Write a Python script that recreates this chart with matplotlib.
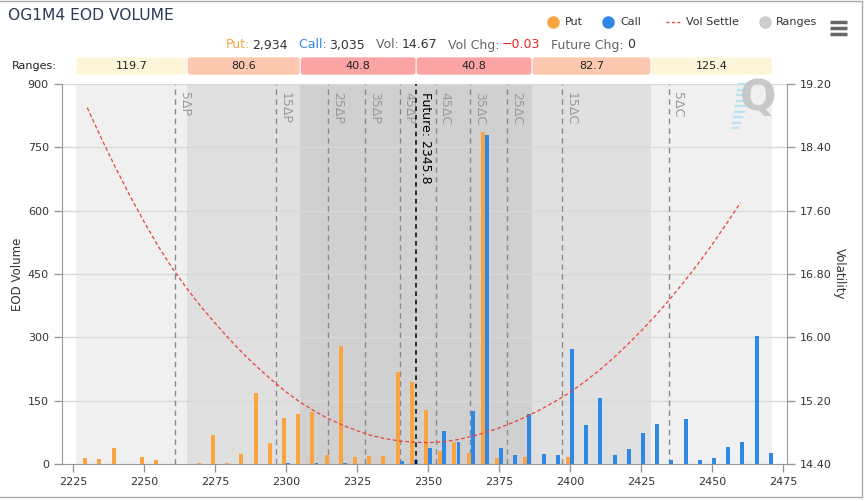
import matplotlib
matplotlib.use("Agg")
import matplotlib.pyplot as plt
from matplotlib.lines import Line2D
from matplotlib.patches import FancyBboxPatch
from matplotlib.offsetbox import TextArea, HPacker, AnchoredOffsetbox
import numpy as np

plt.rcParams['font.family'] = ['DejaVu Sans']

# ---------------- data ----------------
strikes = list(range(2230, 2475, 5))
put_vol = [14, 11, 37, 0, 16, 9, 1, 1, 3, 69, 3, 24, 167, 49, 108, 118, 124, 21, 279, 16,
           19, 19, 218, 194, 128, 31, 52, 27, 787, 15, 0, 17, 1, 1, 17, 1, 1, 1, 0, 1,
           1, 0, 0, 0, 0, 0, 0, 0, 0]
call_vol = [0, 0, 0, 0, 0, 0, 0, 0, 0, 0, 0, 0, 0, 0, 2, 0, 2, 0, 3, 0,
            0, 0, 7, 9, 37, 77, 52, 125, 779, 39, 21, 118, 24, 21, 272, 92, 156, 21, 36, 74,
            95, 9, 106, 9, 14, 40, 52, 303, 26]
vol_strikes = list(range(2230, 2465, 5))
vol_settle = [18.90, 18.51, 18.14, 17.79, 17.46, 17.15, 16.87, 16.62, 16.39, 16.18,
              15.98, 15.79, 15.62, 15.46, 15.31, 15.18, 15.07, 14.97, 14.89, 14.82,
              14.76, 14.72, 14.69, 14.675, 14.67, 14.68, 14.705, 14.745, 14.795, 14.855,
              14.925, 15.005, 15.095, 15.195, 15.305, 15.435, 15.575, 15.73, 15.90, 16.08,
              16.27, 16.475, 16.695, 16.925, 17.17, 17.43, 17.70]
future = 2345.8
range_values = [119.7, 80.6, 40.8, 40.8, 82.7, 125.4]
range_colors = ['#fdf5d8', '#fcc9b0', '#fca3a3', '#fca3a3', '#fcc9b0', '#fdf5d8']
band_colors = ['#f0f0f0', '#e0e0e0', '#d0d0d0', '#d0d0d0', '#e0e0e0', '#f0f0f0']
delta_labels = ['5ΔP', '15ΔP', '25ΔP', '35ΔP', '45ΔP', '45ΔC', '35ΔC', '25ΔC', '15ΔC', '5ΔC']
delta_strikes = [2260.9, 2296.4, 2314.9, 2327.9, 2340.1, 2352.7, 2364.9, 2377.9, 2397.1, 2434.7]
x_ticks = [2225, 2250, 2275, 2300, 2325, 2350, 2375, 2400, 2425, 2450, 2475]
y_ticks = [0, 150, 300, 450, 600, 750, 900]
vol_ticks = [14.40, 15.20, 16.00, 16.80, 17.60, 18.40, 19.20]

PUT_C = '#f9a43f'
CALL_C = '#2f87e6'
W, H = 866, 501

fig = plt.figure(figsize=(W / 100, H / 100), dpi=100)
fig.patch.set_facecolor('white')

def fx(px):
    return px / W

def fy(py):
    return 1 - py / H

L, R, T, B = 62, 787, 84, 464
ax = fig.add_axes([fx(L), fy(B), fx(R - L), (B - T) / H])
xlim = (2221.1, 2476.4)
ax.set_xlim(*xlim)
ax.set_ylim(0, 900)

# range boundaries
edges = [future - range_values[0], future - range_values[1], future - range_values[2], future,
         future + range_values[3], future + range_values[4], future + range_values[5]]
for i in range(6):
    ax.axvspan(edges[i], edges[i + 1], color=band_colors[i], zorder=0, lw=0)

for yt in y_ticks[1:]:
    ax.axhline(yt, color='#d9d9d9', lw=1, zorder=1)

# delta lines
for s, lab in zip(delta_strikes, delta_labels):
    ax.axvline(s, color='#8a8a8a', lw=1, ls=(0, (4, 3)), zorder=2)
    ax.text(s + 0.9, 880, lab, rotation=-90, va='top', ha='left', color='#999999',
            fontsize=9, zorder=2)
ax.axvline(future, color='black', lw=1.1, ls=(0, (3, 2.5)), zorder=4)
ax.text(future + 0.9, 880, 'Future: 2345.8', rotation=-90, va='top', ha='left',
        color='black', fontsize=9, zorder=5)

# bars
s_arr = np.array(strikes, dtype=float)
bw = 1.4
ax.bar(s_arr - 0.72, put_vol, width=bw, color=PUT_C, zorder=3, lw=0)
ax.bar(s_arr + 0.72, call_vol, width=bw, color=CALL_C, zorder=3, lw=0)

ax.set_xticks(x_ticks)
ax.set_yticks(y_ticks)
ax.tick_params(axis='both', colors='#999999', labelcolor='#333333', labelsize=8, length=6, width=1)
for sp in ['top', 'right']:
    ax.spines[sp].set_visible(False)
for sp in ['left', 'bottom']:
    ax.spines[sp].set_color('#999999')
ax.set_ylabel('EOD Volume', fontsize=8.5, color='#333333', labelpad=3)

ax2 = ax.twinx()
ax2.set_ylim(14.4, 19.2)
ax2.set_yticks(vol_ticks)
ax2.set_yticklabels([f'{v:.2f}' for v in vol_ticks])
ax2.tick_params(axis='y', colors='#999999', labelcolor='#333333', labelsize=8, length=6, width=1)
for sp in ['top', 'left', 'bottom']:
    ax2.spines[sp].set_visible(False)
ax2.spines['right'].set_color('#999999')
ax2.plot(vol_strikes, vol_settle, color='#e8423a', lw=0.9, ls=(0, (3, 2)), zorder=5)
ax2.set_ylabel('Volatility', fontsize=8.5, color='#333333', rotation=-90, labelpad=10)

# ranges row
axr = fig.add_axes([fx(L), fy(75), fx(R - L), 18 / H])
axr.set_xlim(*xlim)
axr.set_ylim(0, 1)
axr.axis('off')
for i in range(6):
    x0 = edges[i] + 0.2
    wdt = edges[i + 1] - edges[i] - 0.4
    axr.add_patch(FancyBboxPatch((x0, 0.02), wdt, 0.96,
                                 boxstyle='round,pad=0,rounding_size=1.0',
                                 mutation_aspect=1 / 8, fc=range_colors[i], ec='none'))
    axr.text(edges[i] + (edges[i + 1] - edges[i]) / 2, 0.48, f'{range_values[i]}',
             ha='center', va='center', fontsize=8, color='#222222')
fig.text(fx(12), fy(66), 'Ranges:', ha='left', va='center', fontsize=8, color='#222222')

# title
fig.text(fx(8), fy(16), 'OG1M4 EOD VOLUME', ha='left', va='center', fontsize=11.2, color='#2b3a55')

# legend
def dot(px, py, c):
    fig.add_artist(Line2D([fx(px)], [fy(py)], marker='o', ms=8, color=c, ls='none',
                          transform=fig.transFigure))
dot(553, 22, PUT_C)
fig.text(fx(565), fy(22), 'Put', ha='left', va='center', fontsize=8, color='#333333')
dot(608, 22, CALL_C)
fig.text(fx(620), fy(22), 'Call', ha='left', va='center', fontsize=8, color='#333333')
fig.add_artist(Line2D([fx(666), fx(682)], [fy(22), fy(22)], color='#e8423a', lw=1,
                      ls=(0, (2, 2)), transform=fig.transFigure))
fig.text(fx(686), fy(22), 'Vol Settle', ha='left', va='center', fontsize=8, color='#333333')
dot(765, 22, '#cccccc')
fig.text(fx(776), fy(22), 'Ranges', ha='left', va='center', fontsize=8, color='#333333')
for yy in (22, 28, 34):
    fig.add_artist(Line2D([fx(830), fx(847)], [fy(yy), fy(yy)], color='#666666', lw=2.5,
                          transform=fig.transFigure, solid_capstyle='butt'))

# stats line
pieces = [('Put:', PUT_C), ('2,934', '#333333'), ('  Call:', CALL_C), ('3,035', '#333333'),
          ('  Vol:', '#666666'), ('14.67', '#333333'), ('  Vol Chg:', '#666666'),
          ('\u22120.03', '#ee2222'), ('  Future Chg:', '#666666'), ('0', '#333333')]
areas = [TextArea(t, textprops=dict(color=c, fontsize=9)) for t, c in pieces]
box = HPacker(children=areas, pad=0, sep=2, align='baseline')
anch = AnchoredOffsetbox(loc='center', child=box, frameon=False,
                         bbox_to_anchor=(fx(430), fy(45)), bbox_transform=fig.transFigure,
                         borderpad=0, pad=0)
fig.add_artist(anch)

# Q logo
fig.text(fx(758), fy(98), 'Q', ha='center', va='center', fontsize=31, fontweight='bold',
         color='#c4c4c4', alpha=0.9)
for k in range(9):
    yy = 84 + k * 5.5
    xe = 752 - k * 1.7
    fig.add_artist(Line2D([fx(xe - 13 + k * 0.9), fx(xe)], [fy(yy), fy(yy)],
                          color='#b9e3f2', lw=1.6, transform=fig.transFigure))

# outer frame
fig.add_artist(Line2D([fx(0), fx(862), fx(862), fx(0)], [fy(0.5), fy(0.5), fy(497), fy(497)],
                      color='#aaaaaa', lw=1, transform=fig.transFigure))

fig.savefig('out.png', dpi=100)
